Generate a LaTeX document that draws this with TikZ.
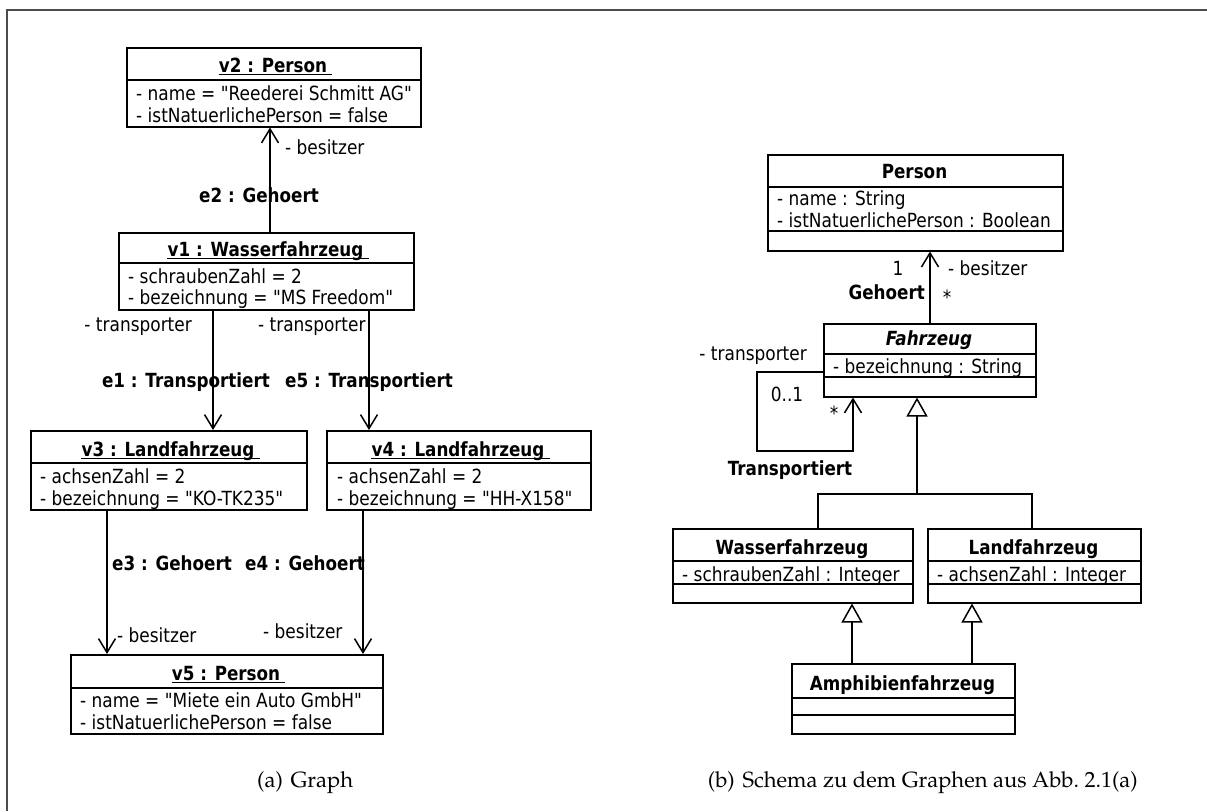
\documentclass[tikz,border=0pt]{standalone}
\usepackage{fontspec}
\usepackage[T1,TU]{fontenc}
\setmainfont{DejaVu Sans}[Ligatures=TeXOff,UprightFeatures={FakeStretch=0.87},BoldFeatures={FakeStretch=0.86},BoldItalicFeatures={FakeStretch=0.86}]
\usetikzlibrary{arrows.meta}
\newcommand\capfont{\fontencoding{T1}\fontfamily{ppl}\fontsize{22}{26}\selectfont}
\newcommand\q{\symbol{"22}}
% divider line inside a class box: box name, offset from top
\newcommand\divider[2]{\draw[line width=1.5pt] ([yshift=-#2pt]#1.north west) -- ([yshift=-#2pt]#1.north east);}
% underlined object title: name, position, text
\newcommand\objtitle[3]{%
  \node[ttl,anchor=base] (#1) at (#2) {#3};
  \draw[line width=1.3pt] ([yshift=-2.5pt]#1.base west) -- ([xshift=5pt,yshift=-2.5pt]#1.base east);}
\tikzset{
  box/.style={draw, line width=1.5pt, inner sep=0pt, anchor=north west},
  lbl/.style={inner sep=0pt, font=\fontsize{19.5}{21}\selectfont},
  attr/.style={lbl, anchor=base west},
  ttl/.style={inner sep=0pt, font=\fontsize{19.5}{21}\selectfont\bfseries},
  assoc/.style={line width=1.5pt, -{Straight Barb[length=14pt,width=17pt]}},
  gen/.style={line width=1.5pt, -{Triangle[open,length=19pt,width=21pt,fill=white]}},
  line/.style={line width=1.5pt},
  frame/.style={line width=1.5pt, draw=black!70},
}
\begin{document}
\begin{tikzpicture}[x=1pt,y=-1pt]
\useasboundingbox (0,0) rectangle (1207,811);
\draw[frame] (7,811) -- (7,10) -- (1207,10);

% ---------- (a) object graph ----------
\node[box, minimum width=294pt, minimum height=79pt] (v2) at (126,47) {};
\divider{v2}{33}
\objtitle{v2t}{273,72}{v2 : Person}
\node[attr] (v2a) at (136,100) {- name = \q Reederei Schmitt AG\q};
\node[attr] (v2b) at (136,122) {- istNatuerlichePerson = false};

\node[box, minimum width=295pt, minimum height=77pt] (v1) at (118,232) {};
\divider{v1}{31}
\objtitle{v1t}{265.5,256}{v1 : Wasserfahrzeug}
\node[attr] (v1a) at (128,283) {- schraubenZahl = 2};
\node[attr] (v1b) at (128,304) {- bezeichnung = \q MS Freedom\q};

\node[box, minimum width=276pt, minimum height=79pt] (v3) at (30,430) {};
\divider{v3}{33}
\objtitle{v3t}{168,456}{v3 : Landfahrzeug}
\node[attr] (v3a) at (40,483) {- achsenZahl = 2};
\node[attr] (v3b) at (40,505) {- bezeichnung = \q KO-TK235\q};

\node[box, minimum width=264pt, minimum height=79pt] (v4) at (326,430) {};
\divider{v4}{33}
\objtitle{v4t}{458,456}{v4 : Landfahrzeug}
\node[attr] (v4a) at (337,483) {- achsenZahl = 2};
\node[attr] (v4b) at (337,505) {- bezeichnung = \q HH-X158\q};

\node[box, minimum width=312pt, minimum height=79pt] (v5) at (70,654) {};
\divider{v5}{34}
\objtitle{v5t}{226,680}{v5 : Person}
\node[attr] (v5a) at (80,707) {- name = \q Miete ein Auto GmbH\q};
\node[attr] (v5b) at (80,729) {- istNatuerlichePerson = false};

% links
\draw[assoc] ([xshift=152pt]v1.north west) -- ([xshift=144pt]v2.south west);
\draw[assoc] ([xshift=95pt]v1.south west) -- ([xshift=183pt]v3.north west);
\draw[assoc] ([xshift=251pt]v1.south west) -- ([xshift=43pt]v4.north west);
\draw[assoc] ([xshift=77pt]v3.south west) -- ([xshift=37pt]v5.north west);
\draw[assoc] ([xshift=37pt]v4.south west) -- ([xshift=293pt]v5.north west);

\node[attr] (l2r) at (285,154) {- besitzer};
\node[ttl, anchor=base] (l2) at (259,202) {e2 : Gehoert};
\node[lbl, anchor=base east] (l1r) at (192,331) {- transporter};
\node[attr] (l5r) at (258,331) {- transporter};
\node[ttl, anchor=base east] (l1) at (270,387) {e1 : Transportiert};
\node[ttl, anchor=base west] (l5) at (285,387) {e5 : Transportiert};
\node[ttl, anchor=base west] (l3) at (112,570) {e3 : Gehoert};
\node[ttl, anchor=base west] (l4) at (245,570) {e4 : Gehoert};
\node[attr] (l3r) at (117,642) {- besitzer};
\node[attr] (l4r) at (263,638) {- besitzer};

% ---------- (b) schema ----------
\node[box, minimum width=295pt, minimum height=96pt] (person) at (767,154) {};
\divider{person}{33}\divider{person}{77}
\node[ttl, anchor=base] (persont) at (914.5,178) {Person};
\node[attr] (persona) at (777,205) {- name : String};
\node[attr] (personb) at (777,227) {- istNatuerlichePerson : Boolean};

\node[box, minimum width=212pt, minimum height=73pt] (fz) at (823,323) {};
\divider{fz}{31}\divider{fz}{54}
\node[ttl, anchor=base] (fzt) at (929,345) {\itshape Fahrzeug};
\node[attr] (fza) at (833,373) {- bezeichnung : String};

\node[box, minimum width=240pt, minimum height=74pt] (wf) at (672,528) {};
\divider{wf}{33}\divider{wf}{56}
\node[ttl, anchor=base] (wft) at (792,554) {Wasserfahrzeug};
\node[attr] (wfa) at (682,581) {- schraubenZahl : Integer};

\node[box, minimum width=213pt, minimum height=74pt] (lf) at (927,528) {};
\divider{lf}{33}\divider{lf}{56}
\node[ttl, anchor=base] (lft) at (1033.5,554) {Landfahrzeug};
\node[attr] (lfa) at (937,581) {- achsenZahl : Integer};

\node[box, minimum width=223pt, minimum height=70pt] (af) at (791,663) {};
\divider{af}{35}\divider{af}{52}
\node[ttl, anchor=base] (aft) at (902.5,690) {Amphibienfahrzeug};

% Gehoert association
\draw[assoc] ([xshift=107pt]fz.north west) -- ([xshift=163pt]person.south west);
\node[lbl, anchor=base] (g1) at (898,275) {1};
\node[attr] (gr) at (948,275) {- besitzer};
\node[ttl, anchor=base east] (gt) at (925,299) {Gehoert};
\node[lbl] (gs) at (947,297) {*};

% Transportiert self association
\draw[assoc] ([yshift=-49pt]fz.north west) -- ++(-66,0) -- ++(0,79) -- ++(96,0)
  -- ([xshift=30pt]fz.south west);
\node[lbl, anchor=base east] (tr) at (807,360) {- transporter};
\node[lbl, anchor=base] (tm) at (787,401) {0..1};
\node[lbl] (ts) at (834,413) {*};
\node[ttl, anchor=base] (tt) at (790,475) {Transportiert};

% generalisations
\coordinate (fork) at (917,494);
\draw[gen] (fork) -- ([xshift=94pt]fz.south west);
\draw[line] ([xshift=146pt]wf.north west) |- (fork) -| ([xshift=105pt]lf.north west);
\draw[gen] ([xshift=61pt]af.north west) -- ([xshift=180pt]wf.south west);
\draw[gen] ([xshift=181pt]af.north west) -- ([xshift=45pt]lf.south west);

% captions
\node[inner sep=0pt, anchor=base west] (capa) at (257,787) {\capfont (a)\hspace{0.35em}Graph};
\node[inner sep=0pt, anchor=base east] (capb) at (1138,787) {\capfont (b)\hspace{0.35em}Schema zu dem Graphen aus Abb.~2.1(a)};
\end{tikzpicture}
\end{document}
